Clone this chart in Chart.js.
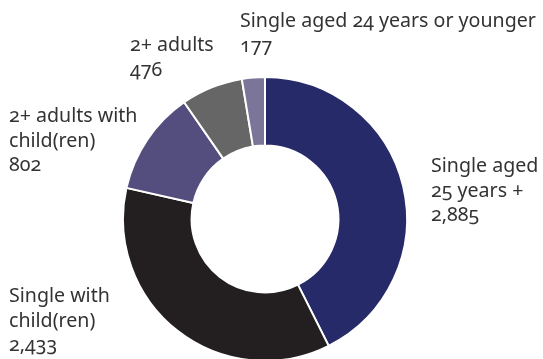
<!DOCTYPE html>
<html>
<head>
<meta charset="utf-8">
<script src="https://cdn.jsdelivr.net/npm/chart.js@4"></script>
<style>
  html, body { margin: 0; padding: 0; background: #fff; overflow: hidden; }
  #wrap { position: relative; width: 543px; height: 359px; overflow: hidden; }
  #chart { position: absolute; left: 0; top: 0; }
  .lbl {
    position: absolute;
    font-family: "Noto Sans", "Open Sans", sans-serif;
    font-size: 19.6px;
    line-height: 24.5px;
    color: #333333;
    white-space: nowrap;
    font-feature-settings: "onum" 1;
    font-variant-numeric: oldstyle-nums;
  }
</style>
</head>
<body>
<div id="wrap">
  <canvas id="chart" width="543" height="362"></canvas>
</div>
<script>
// Households by type
const categories = [
  "Single aged 25 years +",
  "Single with child(ren)",
  "2+ adults with child(ren)",
  "2+ adults",
  "Single aged 24 years or younger"
];
const counts = [2885, 2433, 802, 476, 177];
const sliceColors = ["#262a69", "#231f20", "#544e7f", "#666666", "#7b7599"];

// Label lines (category name split for wrapping) and where each block sits
const labelLines = [
  ["Single aged", "25 years +"],
  ["Single with", "child(ren)"],
  ["2+ adults with", "child(ren)"],
  ["2+ adults"],
  ["Single aged 24 years or younger"]
];
const labelBoxes = [
  { left: 431, top: 153 },
  { left: 9, top: 283 },
  { left: 9, top: 103 },
  { left: 130, top: 32 },
  { left: 240, top: 8 }
];

const fmt = new Intl.NumberFormat("en-US");

new Chart(document.getElementById("chart"), {
  type: "doughnut",
  data: {
    labels: categories,
    datasets: [{
      data: counts,
      backgroundColor: sliceColors,
      borderColor: "#ffffff",
      borderWidth: 2,
      hoverOffset: 0
    }]
  },
  options: {
    responsive: false,
    animation: false,
    cutout: "51.7%",
    rotation: 0,
    layout: { padding: { top: 76, left: 122, right: 135, bottom: 0 } },
    plugins: {
      legend: { display: false },
      tooltip: { enabled: false }
    }
  }
});

// Category labels with their counts
const wrap = document.getElementById("wrap");
categories.forEach((name, i) => {
  const div = document.createElement("div");
  div.className = "lbl";
  div.style.left = labelBoxes[i].left + "px";
  div.style.top = labelBoxes[i].top + "px";
  div.innerHTML = labelLines[i].concat([fmt.format(counts[i])]).join("<br>");
  wrap.appendChild(div);
});
</script>
</body>
</html>
